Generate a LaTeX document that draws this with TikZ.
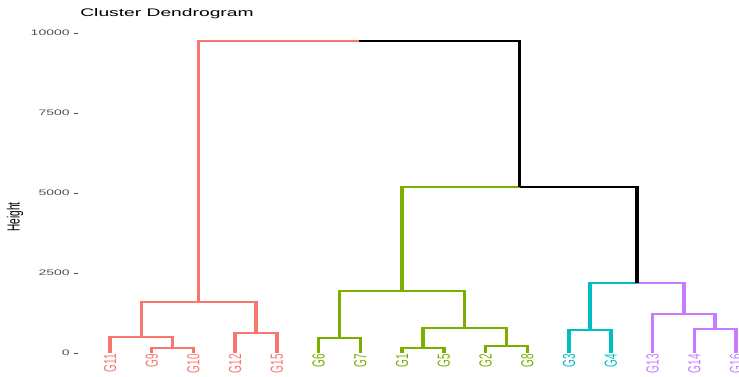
\documentclass[tikz,border=0pt]{standalone}
\usepackage{fontspec}
\setmainfont{Liberation Sans}
\definecolor{pinkc}{HTML}{F8766D}
\definecolor{greenc}{HTML}{7CAE00}
\definecolor{cyanc}{HTML}{00BFC4}
\definecolor{purplec}{HTML}{C77CFF}
\definecolor{axisgray}{HTML}{4D4D4D}
\begin{document}
\begin{tikzpicture}[x=1pt,y=1pt,
  link/.style={line width=2pt},
  leaf/.style={rotate=90,anchor=east,inner sep=1pt,font=\fontsize{10}{10}\selectfont},
  ticklab/.style={anchor=east,inner sep=0pt,text=axisgray,font=\fontsize{8}{8}\selectfont}]
\useasboundingbox (0,0) rectangle (739,376);
\begin{scope}[transform canvas={xscale=1.75},x=0.571429pt,y=0.032pt,yshift=23pt]
% axis
\foreach \h in {0,2500,5000,7500,10000} {
  \node[ticklab] (y\h) at (70,\h) {\h};
  \draw[axisgray,line width=0.6pt] (74,\h) -- (78,\h);
}
\node[rotate=90,font=\fontsize{10}{10}\selectfont] (ylab) at (15,4250) {Height};
\node[anchor=west,inner sep=0pt,font=\fontsize{11}{11}\selectfont] (title) at (80,10594) {Cluster Dendrogram};
% leaves
\foreach \name/\col [count=\i from 0] in {G11/pinkc,G9/pinkc,G10/pinkc,G12/pinkc,G15/pinkc,
  G6/greenc,G7/greenc,G1/greenc,G5/greenc,G2/greenc,G8/greenc,
  G3/cyanc,G4/cyanc,G13/purplec,G14/purplec,G16/purplec}
  \node[leaf,text=\col] (\name) at ({110+41.733*\i},0) {\name};
% merges
\coordinate (a1) at (172.6,156);
\coordinate (a2) at (141.3,490);
\coordinate (a3) at (256.1,630);
\coordinate (a4) at (198.7,1590);
\coordinate (b1) at (339.5,470);
\coordinate (b2) at (423.0,156);
\coordinate (b3) at (506.5,220);
\coordinate (b4) at (464.7,780);
\coordinate (b5) at (402.1,1940);
\coordinate (c1) at (589.9,720);
\coordinate (d1) at (715.1,750);
\coordinate (d2) at (683.8,1220);
\coordinate (e1) at (636.8,2190);
\coordinate (e2) at (519.5,5190);
\coordinate (root) at (359.1,9750);
% pink
\draw[link,pinkc] (G9.east) |- (a1) -| (G10.east);
\draw[link,pinkc] (G11.east) |- (a2) -| (a1);
\draw[link,pinkc] (G12.east) |- (a3) -| (G15.east);
\draw[link,pinkc] (a2) |- (a4) -| (a3);
\draw[link,pinkc] (a4) |- (root);
% green
\draw[link,greenc] (G6.east) |- (b1) -| (G7.east);
\draw[link,greenc] (G1.east) |- (b2) -| (G5.east);
\draw[link,greenc] (G2.east) |- (b3) -| (G8.east);
\draw[link,greenc] (b2) |- (b4) -| (b3);
\draw[link,greenc] (b1) |- (b5) -| (b4);
\draw[link,greenc] (b5) |- (e2);
% cyan and purple
\draw[link,cyanc] (G3.east) |- (c1) -| (G4.east);
\draw[link,purplec] (G14.east) |- (d1) -| (G16.east);
\draw[link,purplec] (G13.east) |- (d2) -| (d1);
\draw[link,cyanc] (c1) |- (e1);
\draw[link,purplec] (e1) -| (d2);
% black
\draw[link,black] (e2) -| (e1);
\draw[link,black] (root) -| (e2);
\end{scope}
\end{tikzpicture}
\end{document}
